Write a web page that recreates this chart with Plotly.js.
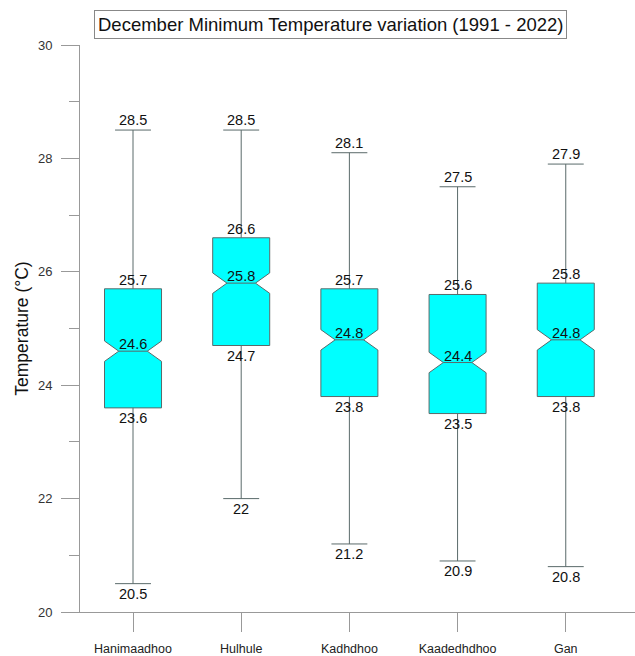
<!DOCTYPE html>
<html>
<head>
<meta charset="utf-8">
<script src="https://cdn.plot.ly/plotly-3.0.1.min.js"></script>
<style>
  html, body { margin: 0; padding: 0; background: #fff; }
  #chart { width: 635px; height: 656px; }
</style>
</head>
<body>
<div id="chart"></div>
<script>
const categories = ['Hanimaadhoo', 'Hulhule', 'Kadhdhoo', 'Kaadedhdhoo', 'Gan'];
const minVals = [20.5, 22, 21.2, 20.9, 20.8];
const q1Vals = [23.6, 24.7, 23.8, 23.5, 23.8];
const medVals = [24.6, 25.8, 24.8, 24.4, 24.8];
const q3Vals = [25.7, 26.6, 25.7, 25.6, 25.8];
const maxVals = [28.5, 28.5, 28.1, 27.5, 27.9];
const notchHalf = [0.18, 0.18, 0.18, 0.18, 0.18];

const fmt = v => String(v);
const FONT = 'Arial, "Liberation Sans", sans-serif';
const labelFont = { family: FONT, size: 14.5, color: '#111' };

const annotations = [];
categories.forEach((c, i) => {
  annotations.push({ x: i, y: maxVals[i], xref: 'x', yref: 'y', text: fmt(maxVals[i]), showarrow: false, yanchor: 'middle', yshift: 10, font: labelFont });
  annotations.push({ x: i, y: q3Vals[i], xref: 'x', yref: 'y', text: fmt(q3Vals[i]), showarrow: false, yanchor: 'middle', yshift: 9, font: labelFont });
  annotations.push({ x: i, y: medVals[i], xref: 'x', yref: 'y', text: fmt(medVals[i]), showarrow: false, yanchor: 'middle', yshift: 7, font: labelFont });
  annotations.push({ x: i, y: q1Vals[i], xref: 'x', yref: 'y', text: fmt(q1Vals[i]), showarrow: false, yanchor: 'middle', yshift: -10, font: labelFont });
  annotations.push({ x: i, y: minVals[i], xref: 'x', yref: 'y', text: fmt(minVals[i]), showarrow: false, yanchor: 'middle', yshift: -10, font: labelFont });
});

annotations.push({
  xref: 'paper', yref: 'paper', x: (330 - 80) / 555, y: 1, yshift: 20.5,
  xanchor: 'center', yanchor: 'middle',
  text: 'December Minimum Temperature variation (1991 - 2022)',
  showarrow: false,
  font: { family: FONT, size: 18.5, color: '#111' },
  bordercolor: '#888', borderwidth: 1, borderpad: 3, bgcolor: '#fff'
});

const trace = {
  type: 'box',
  x: [0, 1, 2, 3, 4],
  q1: q1Vals,
  median: medVals,
  q3: q3Vals,
  lowerfence: minVals,
  upperfence: maxVals,
  notchspan: notchHalf,
  notched: true,
  notchwidth: 0.25,
  width: 0.527,
  whiskerwidth: 0.63,
  boxpoints: false,
  fillcolor: '#00FFFF',
  line: { color: '#5a6a6a', width: 1 },
  hoverinfo: 'none',
  showlegend: false
};

const layout = {
  width: 635, height: 656,
  margin: { l: 80, r: 0, t: 45, b: 44 },
  paper_bgcolor: '#fff', plot_bgcolor: '#fff',
  showlegend: false,
  font: { family: FONT, color: '#333' },
  xaxis: {
    range: [-0.49, 4.64],
    tickmode: 'array', tickvals: [0, 1, 2, 3, 4], ticktext: categories,
    showgrid: false, zeroline: false,
    showline: true, linecolor: '#999', linewidth: 1,
    ticks: 'outside', ticklen: 19, tickcolor: '#999', tickwidth: 1,
    ticklabelstandoff: 6,
    tickfont: { size: 12.5, color: '#222' }
  },
  yaxis: {
    range: [20, 30],
    tickmode: 'linear', tick0: 20, dtick: 2,
    showgrid: false, zeroline: false,
    showline: true, linecolor: '#999', linewidth: 1,
    ticks: 'outside', ticklen: 18, tickcolor: '#999', tickwidth: 1,
    ticklabelstandoff: 6,
    minor: { tick0: 21, dtick: 2, ticks: 'outside', ticklen: 10, tickcolor: '#999', showgrid: false },
    tickfont: { size: 13, color: '#333' },
    title: { text: 'Temperature (°C)', font: { size: 17.5, color: '#111' }, standoff: 4 }
  },
  annotations: annotations
};

Plotly.newPlot('chart', [trace], layout, { displayModeBar: false, staticPlot: true });
</script>
</body>
</html>
